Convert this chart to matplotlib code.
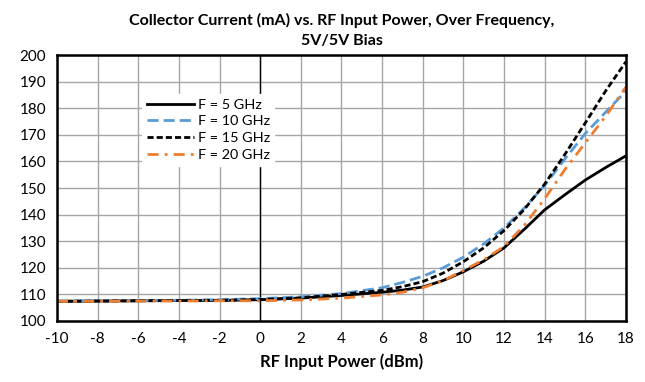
import numpy as np
import matplotlib
matplotlib.use("Agg")
import matplotlib.pyplot as plt

plt.rcParams['font.family'] = ['Lato', 'DejaVu Sans']
plt.rcParams['axes.unicode_minus'] = False

# RF input power (dBm)
pin = [-10, -8, -6, -4, -2, 0, 2, 4, 6, 7, 8, 9, 10, 11, 12, 13, 14, 15, 16, 17, 18]

# collector current (mA)
f5 = [107.4, 107.5, 107.6, 107.7, 107.7, 108.0, 108.6, 109.6, 110.8, 111.6, 112.8,
      115.2, 118.5, 122.5, 127.5, 134.5, 141.8, 147.5, 153.0, 157.7, 162.1]
f10 = [107.5, 107.6, 107.7, 107.8, 108.0, 108.4, 109.1, 110.3, 112.5, 114.5, 116.8,
       120.0, 124.0, 129.0, 135.0, 142.5, 151.0, 161.0, 170.5, 178.5, 186.5]
f15 = [107.4, 107.5, 107.6, 107.7, 107.8, 108.1, 108.7, 110.0, 111.5, 112.9, 114.8,
       118.0, 122.3, 127.5, 134.0, 142.0, 151.5, 162.7, 174.5, 186.5, 197.5]
f20 = [107.4, 107.4, 107.5, 107.5, 107.6, 107.6, 107.9, 108.6, 109.8, 110.8, 112.5,
       115.2, 119.0, 123.0, 128.0, 136.0, 146.0, 157.0, 167.0, 177.0, 188.0]

labels = ['F = 5 GHz', 'F = 10 GHz', 'F = 15 GHz', 'F = 20 GHz']

fig = plt.figure(figsize=(6.45, 3.82), dpi=100)
ax = fig.add_axes([0.0884, 0.1597, 0.8821, 0.6963])

ax.plot(pin, f5, color='black', lw=2, label=labels[0])
ax.plot(pin, f10, color='#5b9bd5', lw=2, ls=(0, (4, 1.8)), label=labels[1])
ax.plot(pin, f15, color='black', lw=2, ls=(0, (2.2, 1.1)), label=labels[2])
ax.plot(pin, f20, color='#ed7d31', lw=2, ls=(0, (4, 2.2, 1, 2.2)), label=labels[3])

ax.set_xlim(-10, 18)
ax.set_ylim(100, 200)
ax.set_xticks(np.arange(-10, 19, 2))
ax.set_yticks(np.arange(100, 201, 10))
ax.grid(True, color='#a6a6a6', lw=1)
ax.set_axisbelow(True)
ax.axvline(0, color='black', lw=1, zorder=1.5)
for s in ax.spines.values():
    s.set_color('black')
    s.set_linewidth(1.8)
ax.tick_params(length=0, labelsize=11, pad=8)

ax.set_title('Collector Current (mA) vs. RF Input Power, Over Frequency,\n5V/5V Bias',
             fontsize=11.5, fontweight='bold', linespacing=1.55, pad=7)
ax.set_xlabel('RF Input Power (dBm)', fontsize=12, fontweight='bold', labelpad=5)

leg = ax.legend(loc='upper left', bbox_to_anchor=(0.137, 0.88), frameon=True,
                fontsize=10.4, handlelength=3.26, borderpad=0.3, labelspacing=0.33,
                handletextpad=0.28, fancybox=False)
leg.get_frame().set_edgecolor('white')
leg.get_frame().set_alpha(1)

fig.savefig('out.png', dpi=100)
